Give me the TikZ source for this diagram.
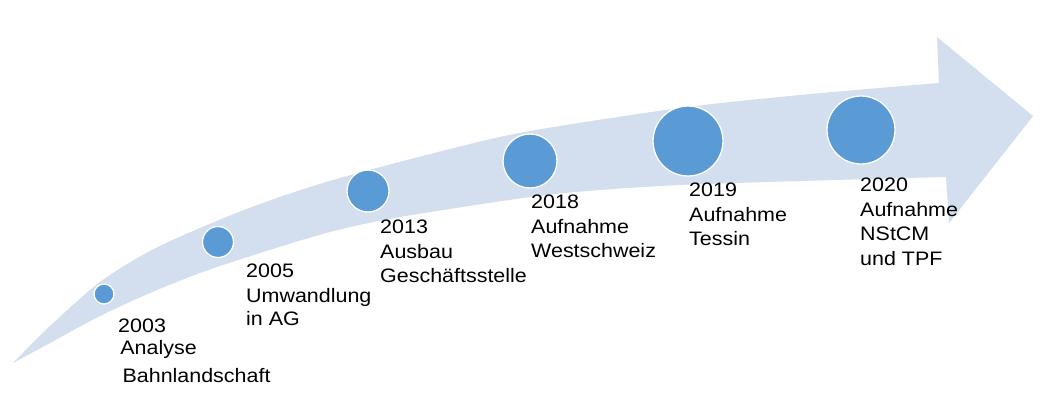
\documentclass[tikz,border=0pt]{standalone}
\usepackage{fontspec}
\setmainfont{Liberation Sans}
\definecolor{arrowfill}{RGB}{211,222,238}
\definecolor{dotblue}{RGB}{91,155,213}
\begin{document}
\begin{tikzpicture}[x=1pt,y=-1pt,
  dot/.style={circle, fill=dotblue, draw=white, line width=1.3pt, inner sep=0pt},
  lbl/.style={anchor=north west, inner sep=0pt, align=left, xscale=1.1,
    font=\fontsize{19.5}{24.5}\selectfont}]
\fill[white] (0,0) rectangle (1060,415);
\useasboundingbox (0,0) rectangle (1060,415);
% arrow body
\fill[arrowfill] plot[smooth] coordinates {(13,363) (50,326) (100,282) (150,251) (200,228) (260,204) (333,180) (450,149) (530,131) (680,108) (800,95) (939,83)}
  -- (937,37) -- (1033,116) -- (949,223) -- (946,177)
  -- plot[smooth] coordinates {(946,177) (800,181) (680,185) (600,190) (530,197) (400,217) (330,232) (260,253) (200,273) (150,293) (100,316) (50,343) (13,363)} -- cycle;
% milestones
\node[dot, minimum size=20pt] (c1) at (104,294) {};
\node[dot, minimum size=31pt] (c2) at (218,242) {};
\node[dot, minimum size=42pt] (c3) at (368,191) {};
\node[dot, minimum size=54pt] (c4) at (530,161) {};
\node[dot, minimum size=70pt] (c5) at (688,141) {};
\node[dot, minimum size=68pt] (c6) at (861,130) {};
% labels
\node[lbl] (l1) at (118,319) {2003\\[-2.5pt]\hspace*{2pt}Analyse\\[3.5pt]\hspace*{4pt}Bahnlandschaft};
\node[lbl] (l2) at (246,264) {2005\\Umwandlung\\[-1pt]in AG};
\node[lbl] (l3) at (380,220) {2013\\Ausbau\\Geschäftsstelle};
\node[lbl] (l4) at (531,195) {2018\\Aufnahme\\Westschweiz};
\node[lbl] (l5) at (689,183) {2019\\Aufnahme\\Tessin};
\node[lbl] (l6) at (860,178) {2020\\Aufnahme\\NStCM\\und TPF};
\end{tikzpicture}
\end{document}
